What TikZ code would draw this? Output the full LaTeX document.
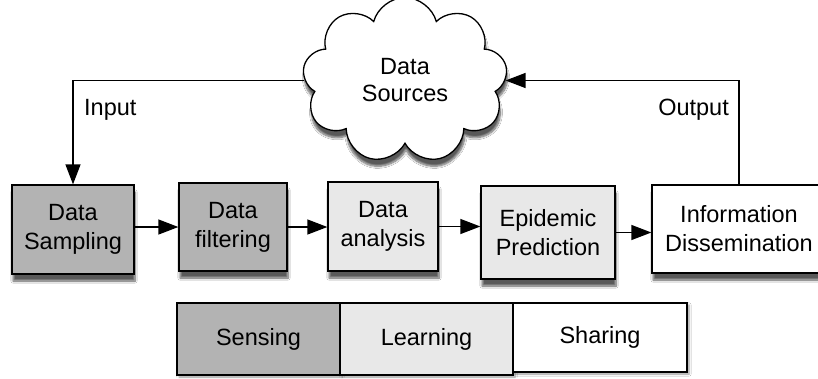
\documentclass[tikz,border=0pt]{standalone}
\usepackage{fontspec}
\setmainfont{Liberation Sans}
\usetikzlibrary{shapes.symbols,arrows.meta,shadows.blur}
\definecolor{sensegray}{HTML}{B3B3B3}
\definecolor{learngray}{HTML}{E8E8E8}
\begin{document}
\begin{tikzpicture}[x=1pt,y=-1pt,
  font=\fontsize{23.5}{29}\selectfont,
  box/.style={draw=black, line width=1.3pt, align=center, inner sep=0pt,
    blur shadow={shadow xshift=1pt, shadow yshift=-7pt, shadow blur steps=8, shadow opacity=65}},
  legbox/.style={draw=black, line width=1.3pt, align=center, inner sep=0pt,
    blur shadow={shadow xshift=2pt, shadow yshift=-2pt, shadow blur steps=5, shadow opacity=40}},
  arr/.style={draw, line width=1.3pt, -{Triangle[length=20pt,width=15pt]}},
  lbl/.style={inner sep=0pt},
]
\useasboundingbox (0,0) rectangle (818,378);
\fill[white] (0,0) rectangle (818,378);

% cloud
\node[cloud, draw=black, line width=1.3pt, fill=white, cloud puffs=9, cloud puff arc=150,
  aspect=1, minimum width=205pt, minimum height=166pt, inner sep=0pt, align=center,
  font=\fontsize{23.5}{27}\selectfont,
  blur shadow={shadow xshift=1pt, shadow yshift=-7pt, shadow blur steps=8, shadow opacity=65}]
  (cloud) at (405,80.5) {Data\\Sources};

% process boxes
\node[box, fill=sensegray, minimum width=122pt, minimum height=89pt] (samp) at (73,229.5) {Data\\Sampling};
\node[box, fill=sensegray, minimum width=108pt, minimum height=88pt] (filt) at (233,227) {Data\\filtering};
\node[box, fill=learngray, minimum width=110pt, minimum height=89pt] (anal) at (383,226.5) {Data\\analysis};
\node[box, fill=learngray, minimum width=134pt, minimum height=93pt] (epid) at (548,232.5) {Epidemic\\Prediction};
\node[box, fill=white, minimum width=174pt, minimum height=88pt] (info) at (739,229) {Information\\Dissemination};

% connectors
\draw[arr] (samp.east |- filt.west) -- (filt.west);
\draw[arr] (filt.east) -- (filt.east -| anal.west);
\draw[arr] (anal.east) -- (anal.east -| epid.west);
\draw[arr] (epid.east) -- (epid.east -| info.west);
\draw[arr] (cloud.west) -| (samp.north);
\draw[arr] (info.north) |- (cloud.east);

% labels
\node[lbl, anchor=base west] (inlbl) at (84,115) {Input};
\node[lbl, anchor=base east] (outlbl) at (729,115) {Output};

% legend
\node[legbox, fill=sensegray, minimum width=163pt, minimum height=72pt] (sens) at (258.5,339) {Sensing};
\node[legbox, fill=learngray, minimum width=173pt, minimum height=72pt] (learn) at (426.5,339) {Learning};
\node[legbox, fill=white, minimum width=174pt, minimum height=69pt] (share) at (600,337.5) {Sharing};
\end{tikzpicture}
\end{document}
